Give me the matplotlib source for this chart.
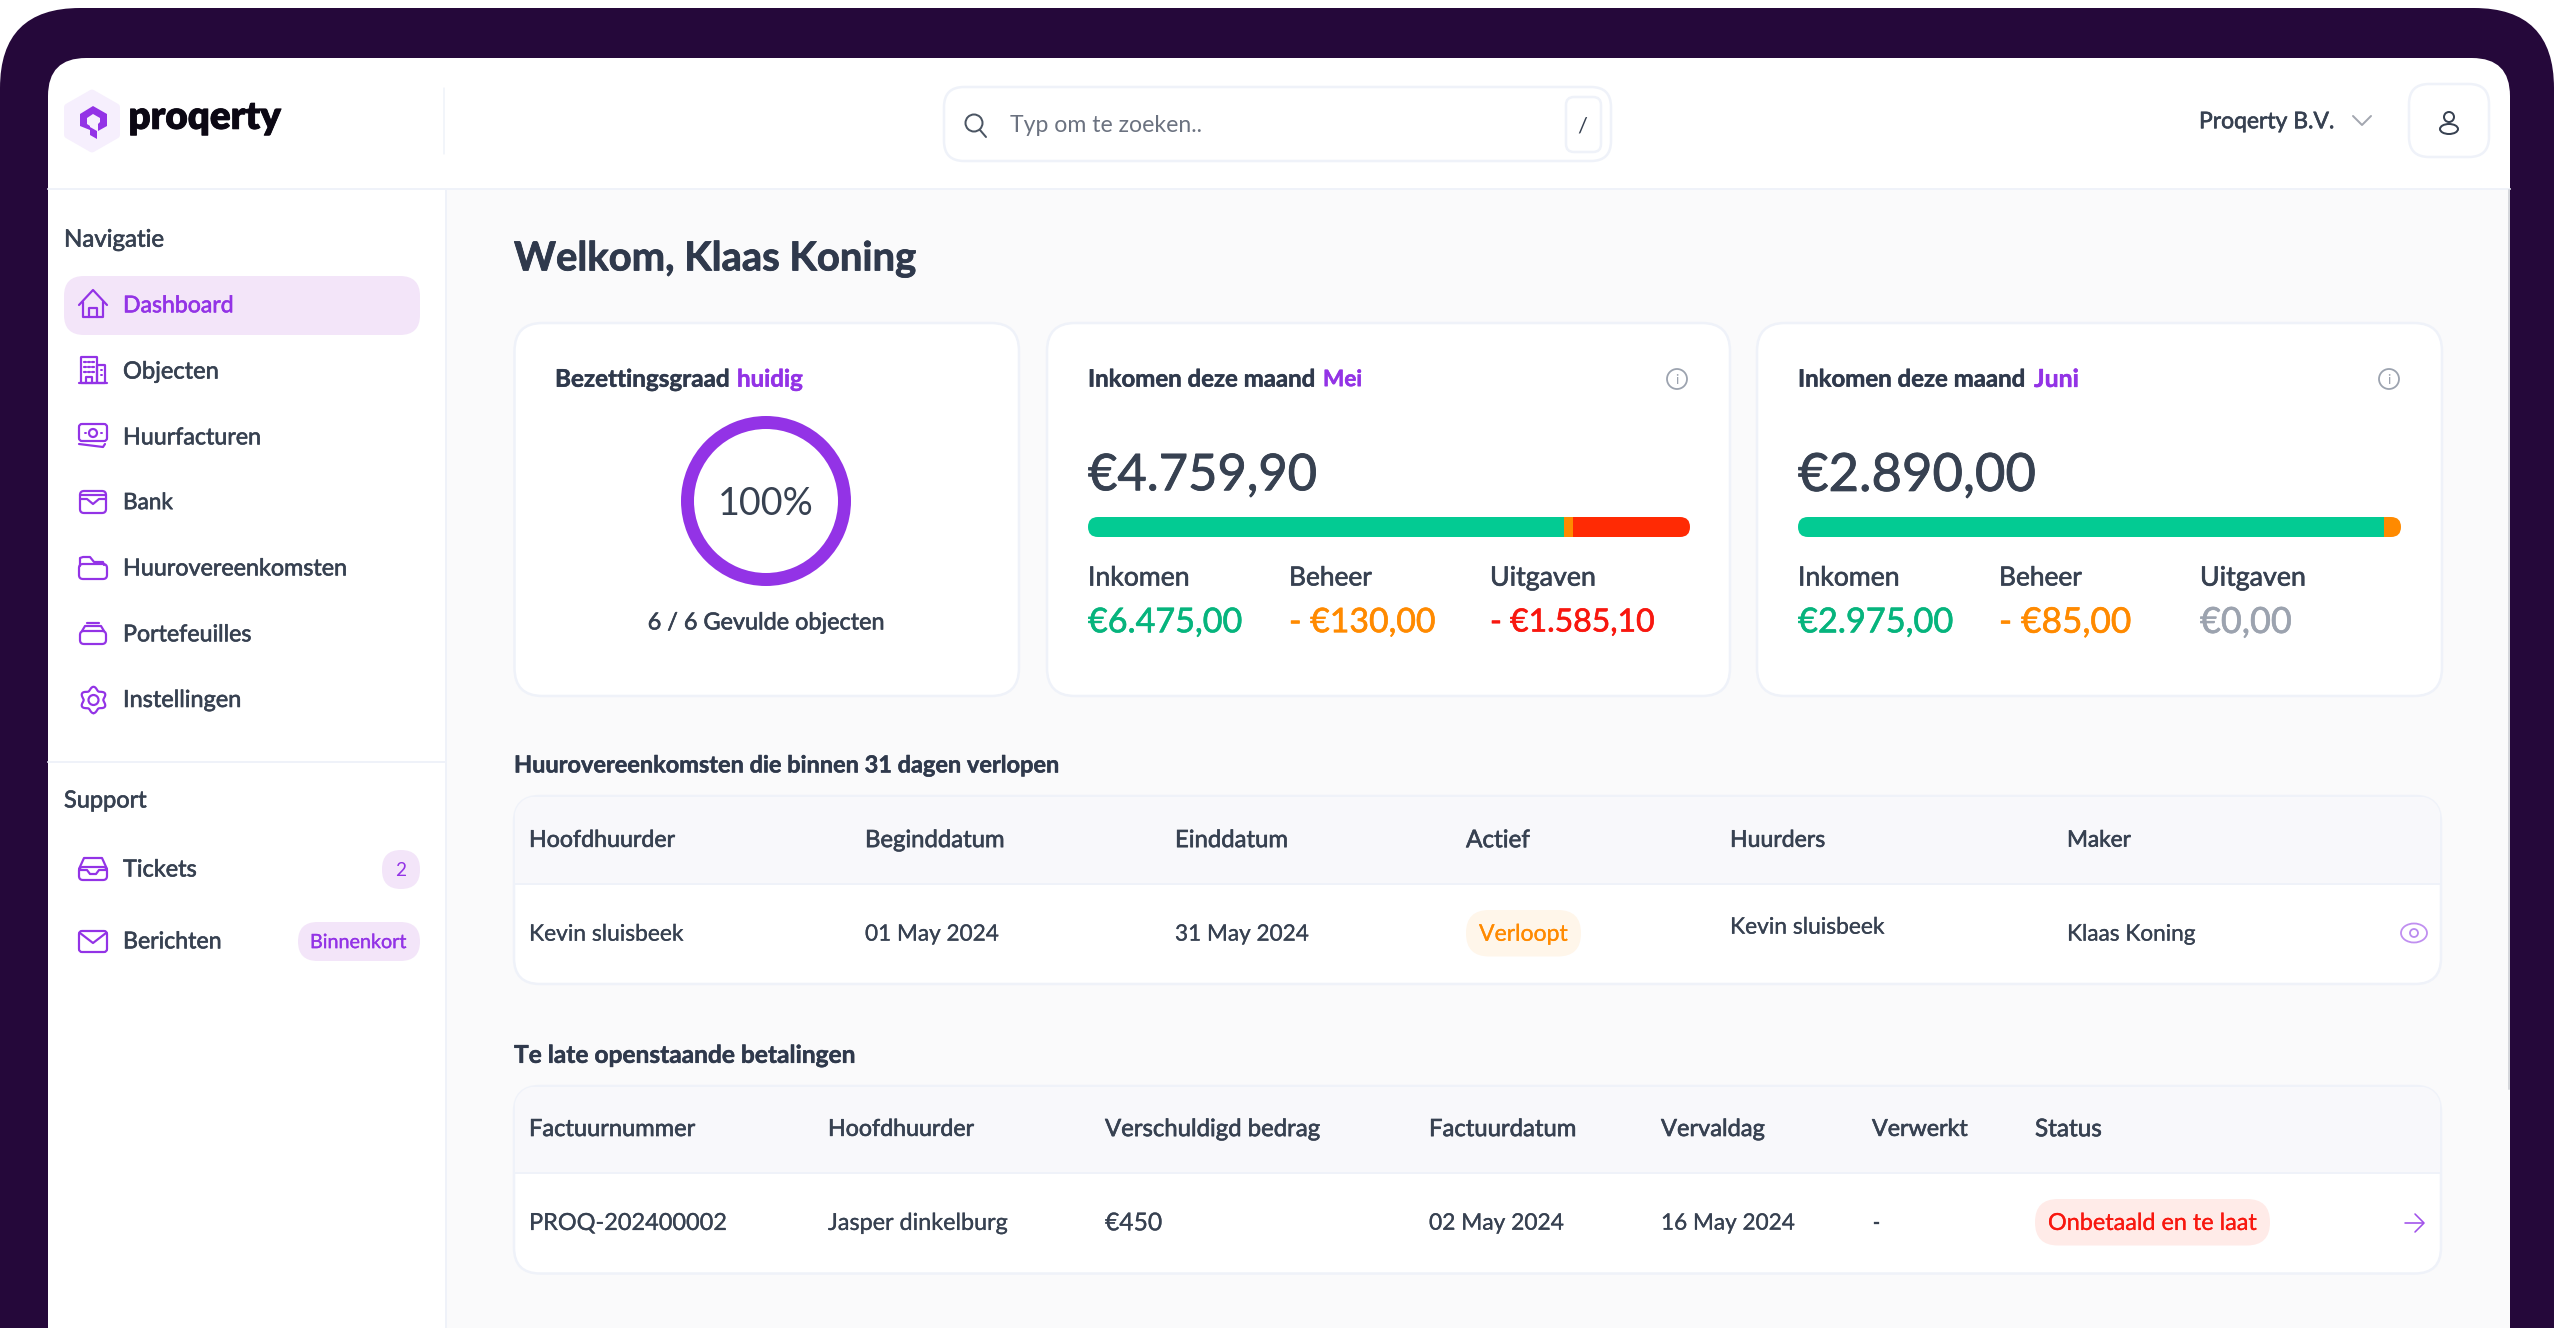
import numpy as np
import matplotlib
matplotlib.use("Agg")
import matplotlib.pyplot as plt
import matplotlib.patheffects as pe
from matplotlib.patches import FancyBboxPatch, Polygon, Rectangle, Ellipse

# ---------- data ----------
NAV_ITEMS = ["Dashboard", "Objecten", "Huurfacturen", "Bank", "Huurovereenkomsten", "Portefeuilles", "Instellingen"]
SUPPORT_ITEMS = ["Tickets", "Berichten"]
OCC_FILLED = 6
OCC_TOTAL = 6
MONTHS = ["Mei", "Juni"]
NET = ["€4.759,90", "€2.890,00"]
INCOME = [6475.00, 2975.00]
BEHEER = [130.00, 85.00]
UITGAVEN = [1585.10, 0.00]
INCOME_TXT = ["€6.475,00", "€2.975,00"]
BEHEER_TXT = ["- €130,00", "- €85,00"]
UITGAVEN_TXT = ["- €1.585,10", "€0,00"]
T1_HEAD = ["Hoofdhuurder", "Beginddatum", "Einddatum", "Actief", "Huurders", "Maker"]
T1_ROW = ["Kevin sluisbeek", "01 May 2024", "31 May 2024", "Verloopt", "Kevin sluisbeek", "Klaas Koning"]
T2_HEAD = ["Factuurnummer", "Hoofdhuurder", "Verschuldigd bedrag", "Factuurdatum", "Vervaldag", "Verwerkt", "Status"]
T2_ROW = ["PROQ-202400002", "Jasper dinkelburg", "€450", "02 May 2024", "16 May 2024", "-", "Onbetaald en te laat"]

# ---------- style ----------
W, H = 2554, 1328
FONT = "Lato"
DARK = "#374151"
TITLE = "#2f394c"
PURPLE = "#9333e6"
FRAME = "#25083a"
BG = "#fafafb"
BORDER = "#eff2f9"
GREEN_BAR = "#03cb93"
GREEN = "#06b47d"
ORANGE = "#ff8a00"
RED_BAR = "#ff2a04"
RED = "#f8170f"
GREY = "#9ca3af"

fig = plt.figure(figsize=(W / 100, H / 100), dpi=100, facecolor="white")
ax = fig.add_axes([0, 0, 1, 1])
ax.set_xlim(0, W)
ax.set_ylim(H, 0)
ax.axis("off")
renderer = fig.canvas.get_renderer()


def box(x0, y0, x1, y1, r, fc, ec="none", lw=0, z=1):
    p = FancyBboxPatch((x0, y0), x1 - x0, y1 - y0, boxstyle=f"round,pad=0,rounding_size={r}",
                       fc=fc, ec=ec, lw=lw * 0.72, zorder=z)
    ax.add_patch(p)
    return p


def T(x, y, s, width=None, px=24, color=DARK, weight="medium", ha="left", z=10, asc=0.36, thick=None):
    if ha == "left" and x < 500:
        x -= 1
    real = {"medium": "normal"}.get(weight, weight)
    t = ax.text(x, y, s, color=color, fontsize=px * 0.72, fontweight=real, family=FONT,
                ha=ha, va="baseline", zorder=z)
    if width:
        w0 = t.get_window_extent(renderer).width
        px = float(np.clip(px * width / w0, px * 0.94, px * 1.06))
        t.set_fontsize(px * 0.72)
    t.set_y(y + asc * px)
    if thick is None:
        thick = {"medium": 0.45, "bold": 0.35}.get(weight, 0)
    if thick:
        t.set_path_effects([pe.withStroke(linewidth=thick, foreground=color)])
    return t


def line(xs, ys, color=PURPLE, lw=2.2, z=8):
    ax.plot(xs, ys, color=color, lw=lw * 0.72, zorder=z, solid_capstyle="round", solid_joinstyle="round")


def ring(cx, cy, rx, ry=None, color=PURPLE, lw=2.2, z=8):
    ax.add_patch(Ellipse((cx, cy), 2 * rx, 2 * (ry or rx), fc="none", ec=color, lw=lw * 0.72, zorder=z))


def rbox(x0, y0, x1, y1, r, color=PURPLE, lw=2.2, z=8):
    box(x0, y0, x1, y1, r, "none", color, lw, z)


# ---------- frame ----------
box(0, 8, W, H + 150, 80, FRAME, z=1)
box(48, 58, 2510, H + 150, 38, "white", z=2)
ax.add_patch(Rectangle((446, 189), 2510 - 446, H - 189, fc=BG, ec="none", zorder=3))
line([48, 2510], [189, 189], BORDER, 2, 4)
line([446, 446], [189, H], BORDER, 2, 4)
line([48, 446], [762, 762], BORDER, 2, 4)
line([443.5, 443.5], [88, 154], BORDER, 1.5, 4)
line([2508.5, 2508.5], [190, 1089], "#d5d7dc", 2, 4)

# ---------- logo ----------
hx = 92 + 24.5 * np.array([0, 1, 1, 0, -1, -1])
hy = 121 + 28 * np.array([-1, -.5, .5, 1, .5, -.5])
ax.add_patch(Polygon(np.c_[hx, hy], closed=True, fc="#f6effd", ec="#f6effd", lw=5, joinstyle="round", zorder=5))
ax.add_patch(Polygon([(93, 106), (107, 114), (107, 126), (98, 131), (98, 124), (100, 122), (100, 118), (93, 114),
                      (87, 118), (87, 124), (90, 126), (90, 130), (80, 126), (80, 114)],
                     closed=True, fc=PURPLE, ec="none", zorder=6))
ax.add_patch(Polygon([(90, 127), (97, 131), (97, 139), (90, 135)], closed=True, fc=PURPLE, ec="none", zorder=6))
T(129.5, 115, "proqerty", width=150, color="#0c0814", weight="heavy", px=41, thick=0.6)

# ---------- search + top right ----------
box(944, 87, 1611, 161, 20, "white", BORDER, 2.5, z=5)
ring(974, 123, 8.5, color="#4b5563", lw=2)
line([980, 986], [130, 137], "#4b5563", 2)
T(1010, 124, "Typ om te zoeken..", width=192, color="#6b7280", weight="normal")
box(1566, 97, 1601, 152, 8, "white", BORDER, 2.5, z=6)
T(1582, 125, "/", color=DARK, weight="normal", px=22, ha="center")
T(2199, 120, "Proqerty B.V.", width=136)
line([2353, 2362, 2371], [116, 125, 116], "#a3a7b0", 2)
box(2409, 84, 2489, 157, 20, "white", BORDER, 2.5, z=5)
ring(2449, 117, 5, color=DARK, lw=2)
ring(2449, 129, 9, 5, color=DARK, lw=2)

# ---------- sidebar ----------
T(65, 238, "Navigatie", width=100)
box(64, 276, 420, 335, 20, "#f3e5f9", z=5)
nav_y = [304, 370, 436, 501, 567, 633, 698.5]
nav_w = [111, 96, 139, 49, 225, 129, 119]
for i, (n, y, w) in enumerate(zip(NAV_ITEMS, nav_y, nav_w)):
    T(124, y, n, width=w, color=PURPLE if i == 0 else DARK)

cx = 93
# house
y = 304
line([cx - 14, cx, cx + 14], [y + 1, y - 14, y + 1])
line([cx - 10, cx - 10, cx + 10, cx + 10], [y - 2, y + 13, y + 13, y - 2])
line([cx - 4, cx - 4, cx + 4, cx + 4], [y + 13, y + 4, y + 4, y + 13])
# building
y = 370
line([cx - 14, cx + 14], [y + 13, y + 13])
rbox(cx - 12, y - 13, cx + 4, y + 13, 0.5)
rbox(cx + 4, y - 5, cx + 12, y + 13, 0.5)
for dx in (-8, -4, 0):
    for dy in (-8, -3, 2):
        line([cx + dx - 1, cx + dx + 1], [y + dy, y + dy], lw=2.2)
for dy in (0, 5):
    line([cx + 8, cx + 9], [y + dy, y + dy], lw=2)
line([cx - 7, cx - 7, cx - 1, cx - 1], [y + 13, y + 7, y + 7, y + 13])
# money
y = 434
rbox(cx - 14, y - 10, cx + 14, y + 7, 3)
ring(cx, y - 1, 4)
line([cx - 8, cx - 7.5], [y - 1, y - 1], lw=2)
line([cx + 8, cx + 8.5], [y - 1, y - 1], lw=2)
line([cx - 14, cx + 10, cx + 12], [y + 10, y + 13, y + 10])
# bank
y = 502
rbox(cx - 13, y - 11, cx + 13, y + 11, 4)
line([cx - 13, cx + 13], [y - 7, y - 7])
line([cx - 13, cx - 6, cx, cx + 6, cx + 13], [y - 3, y - 3, y + 2, y - 3, y - 3])
# folder
y = 568
rbox(cx - 14, y - 4, cx + 14, y + 11, 4)
line([cx - 13, cx - 13, cx - 10, cx - 3, cx + 1, cx + 10, cx + 11], [y - 2, y - 10, y - 11, y - 11, y - 6, y - 6, y - 3])
# portfolio
y = 634
rbox(cx - 13, y - 3, cx + 13, y + 10, 4)
line([cx - 11, cx - 8, cx + 8, cx + 11], [y - 3, y - 8, y - 8, y - 3])
line([cx - 6, cx + 6], [y - 11, y - 11])
# gear
y = 700
ring(cx + 0.5, y, 5)
ang = np.linspace(0, 2 * np.pi, 145)
rad = 11.5 + 1.7 * np.cos(6 * ang)
line(cx + 0.5 + rad * np.sin(ang), y + rad * np.cos(ang))
# support
T(65, 799, "Support", width=83)
T(124, 868, SUPPORT_ITEMS[0], width=74)
T(124, 940, SUPPORT_ITEMS[1], width=99)
y = 869
rbox(cx - 14, y - 2, cx + 14, y + 11, 4)
line([cx - 14, cx - 9, cx + 9, cx + 14], [y, y - 11, y - 11, y])
line([cx - 14, cx - 6, cx - 3, cx + 3, cx + 6, cx + 14], [y + 1, y + 1, y + 5, y + 5, y + 1, y + 1])
y = 941
rbox(cx - 14, y - 10, cx + 14, y + 11, 3)
line([cx - 13, cx, cx + 13], [y - 8, y + 2, y - 8])
box(382, 850, 420, 889, 19, "#f3e5f9", z=5)
T(401, 869, "2", color=PURPLE, px=19, ha="center", weight="normal")
box(298, 922, 420, 961, 19.5, "#f3e5f9", z=5)
T(311, 941, "Binnenkort", width=95, px=21, color=PURPLE, weight="normal", thick=0.2)

# ---------- heading ----------
T(514, 256, "Welkom, Klaas Koning", width=403, color=TITLE, weight="bold", px=40, thick=0.6)

# ---------- occupancy card ----------
box(514.5, 323, 1019, 696, 28, "white", BORDER, 2.5, z=5)
T(555, 378, "Bezettingsgraad", width=175, color=TITLE, weight="bold")
T(737, 378, "huidig", width=66, color=PURPLE, weight="bold")


def inset(x0, y0, x1, y1):
    a = fig.add_axes([x0 / W, 1 - y1 / H, (x1 - x0) / W, (y1 - y0) / H], zorder=5)
    a.axis("off")
    a.patch.set_visible(False)
    return a


a = inset(766 - 85, 501 - 85, 766 + 85, 501 + 85)
a.pie([OCC_FILLED, OCC_TOTAL - OCC_FILLED], colors=[PURPLE, "#f3e5f9"], radius=1, startangle=90,
      counterclock=False, wedgeprops=dict(width=13 / 85, lw=0))
a.set_xlim(-1, 1)
a.set_ylim(-1, 1)
T(766, 501, f"{round(100 * OCC_FILLED / OCC_TOTAL)}%", width=95, ha="center", weight="normal", px=40, z=12)
T(766, 621, f"{OCC_FILLED} / {OCC_TOTAL} Gevulde objecten", width=237, ha="center")

# ---------- income cards ----------
card_x = [(1047, 1730), (1757, 2442)]
text_x = [1088, 1798]
month_x = [1323, 2034]
month_w = [37, 45]
bar_x = [(1088, 1690), (1798, 2401)]
net_w = [229, 238]
inc_w = [154, 155]
beh_w = [146, 132]
uit_w = [163, 93]
for i in range(2):
    box(card_x[i][0], 323, card_x[i][1], 696, 28, "white", BORDER, 2.5, z=5)
    tx = text_x[i]
    T(tx, 378, "Inkomen deze maand", width=228, color=TITLE, weight="bold")
    T(month_x[i], 378, MONTHS[i], width=month_w[i], color=PURPLE, weight="bold")
    ix = card_x[i][1] - 53
    ring(ix, 379, 10, color=GREY, lw=1.8)
    T(ix, 379, "i", color=GREY, px=14, ha="center", weight="normal")
    T(tx, 472, NET[i], width=net_w[i], px=52, weight="medium", thick=0.6)
    # progress bar
    x0, x1 = bar_x[i]
    a = inset(x0, 517, x1, 537)
    total = INCOME[i] + BEHEER[i] + UITGAVEN[i]
    clip = FancyBboxPatch((x0, 517), x1 - x0, 20, boxstyle="round,pad=0,rounding_size=10", transform=ax.transData)
    left = 0
    for v, c in zip((INCOME[i], BEHEER[i], UITGAVEN[i]), (GREEN_BAR, ORANGE, RED_BAR)):
        bars = a.barh(0, v, left=left, height=1, color=c, lw=0)
        for b in bars:
            b.set_clip_path(clip)
        left += v
    a.set_xlim(0, total)
    a.set_ylim(-0.5, 0.5)
    cols = [tx, tx + 201, tx + 402]
    T(cols[0], 576, "Inkomen", width=102, px=26)
    T(cols[1], 576, "Beheer", width=83, px=26)
    T(cols[2], 576, "Uitgaven", width=106, px=26)
    T(cols[0], 620, INCOME_TXT[i], width=inc_w[i], px=34, color=GREEN)
    T(cols[1], 620, BEHEER_TXT[i], width=beh_w[i], px=34, color=ORANGE)
    T(cols[2], 620, UITGAVEN_TXT[i], width=uit_w[i], px=34, color=RED if UITGAVEN[i] else GREY)


# ---------- tables ----------
def table(top, mid, bot):
    box(514, top, 2441, bot, 26, "white", BORDER, 2.5, z=5)
    clip = FancyBboxPatch((514, top), 2441 - 514, bot - top, boxstyle="round,pad=0,rounding_size=26",
                          transform=ax.transData)
    r = Rectangle((515, top + 1), 1925, mid - top, fc="#f8f8fb", ec="none", zorder=6)
    ax.add_patch(r)
    r.set_clip_path(clip)
    line([515, 2440], [mid, mid], BORDER, 2, 7)


T(514, 764, "Huurovereenkomsten die binnen 31 dagen verlopen", width=546, color=TITLE, weight="bold")
table(796, 883.5, 984)
t1_x = [529, 865, 1175, 1466, 1730, 2067]
t1_hw = [147, 140, 113.5, 64, 96, 64]
t1_rw = [155, 132, 129.5, 89, 155, 129]
t1_ry = [933, 933, 933, 933, 926, 933]
box(1466, 910, 1581, 956.5, 23, "#fff6ea", z=8)
for i in range(6):
    T(t1_x[i], 838.5, T1_HEAD[i], width=t1_hw[i])
    if i == 3:
        T(1479, 932.5, T1_ROW[i], width=t1_rw[i], color=ORANGE, weight="normal", thick=0.2)
    else:
        T(t1_x[i], t1_ry[i] - 0.5, T1_ROW[i], width=t1_rw[i], weight="normal", thick=0.2)
# eye icon
ring(2414, 933, 13, 9.5, color="#c08ff0", lw=1.8)
ring(2414, 933, 4, color="#b98bef", lw=1.8)

T(514, 1054, "Te late openstaande betalingen", width=342, color=TITLE, weight="bold")
table(1086, 1172.5, 1273.5)
t2_x = [529, 828, 1105, 1429, 1661, 1872, 2035]
t2_hw = [167, 147, 216, 148, 104, 96, 67]
t2_rw = [198, 180.5, 57, 135, 131, None, 209]
box(2035, 1199, 2270, 1245.5, 23, "#ffebe8", z=8)
for i in range(7):
    T(t2_x[i], 1127.5, T2_HEAD[i], width=t2_hw[i])
    if i == 6:
        T(2048, 1221.5, T2_ROW[i], width=t2_rw[i], color=RED, weight="normal", thick=0.2)
    else:
        T(t2_x[i], 1221.5, T2_ROW[i], width=t2_rw[i], weight="normal", thick=0.2)
# arrow icon
line([2405, 2423], [1223, 1223], lw=1.6, color="#a050ea")
line([2415, 2424, 2415], [1214, 1223, 1232], lw=1.6, color="#a050ea")

fig.savefig("out.png", dpi=100, facecolor="white")
